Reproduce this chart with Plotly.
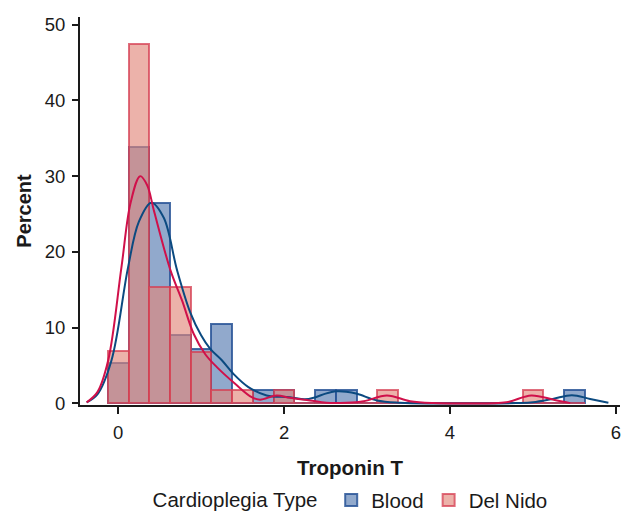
import plotly.graph_objects as go

# Histogram bins (centers, width 0.25) and percent values
bin_centers = [0.0, 0.25, 0.5, 0.75, 1.0, 1.25, 1.5, 1.75, 2.0, 2.25, 2.5, 2.75,
               3.0, 3.25, 3.5, 3.75, 4.0, 4.25, 4.5, 4.75, 5.0, 5.25, 5.5]
blood_pct = [5.4, 33.8, 26.4, 9.1, 7.2, 10.5, 0, 1.8, 1.8, 0, 1.8, 1.8,
             0, 0, 0, 0, 0, 0, 0, 0, 0, 0, 1.8]
delnido_pct = [6.9, 47.5, 15.4, 15.4, 6.8, 1.8, 1.8, 0, 1.8, 0, 0, 0,
               0, 1.8, 0, 0, 0, 0, 0, 0, 1.8, 0, 0]

# Density curves
blood_kde_x = [-0.38, -0.25, -0.08, 0.12, 0.25, 0.40, 0.55, 0.71, 0.87, 1.0, 1.11, 1.25,
               1.39, 1.57, 1.79, 2.07, 2.25, 2.37, 2.5, 2.63, 2.75, 2.88, 3.12, 3.4,
               3.8, 4.3, 4.8, 5.0, 5.24, 5.47, 5.69, 5.91]
blood_kde_y = [0.15, 1.2, 5.7, 18.0, 24.0, 26.5, 24.5, 17.6, 12.0, 9.0, 7.2, 5.7,
               3.9, 2.16, 1.06, 0.83, 0.55, 0.8, 1.3, 1.6, 1.55, 1.28, 0.4, 0.1,
               0.0, 0.0, 0.05, 0.15, 0.6, 1.1, 0.6, 0.1]
delnido_kde_x = [-0.38, -0.25, -0.12, 0.04, 0.15, 0.265, 0.35, 0.43, 0.63, 0.77, 0.91, 1.05,
                 1.19, 1.41, 1.61, 1.71, 1.91, 2.07, 2.31, 2.51, 2.75, 2.96, 3.24, 3.52,
                 3.8, 4.2, 4.68, 4.98, 5.25, 5.45]
delnido_kde_y = [0.15, 1.5, 5.7, 18.0, 26.5, 30.0, 28.8, 25.5, 17.6, 13.6, 9.2, 6.5,
                 4.8, 2.6, 0.83, 0.5, 1.06, 0.75, 0.4, 0.1, 0.1, 0.3, 1.06, 0.3,
                 0.05, 0.0, 0.17, 1.06, 0.5, 0.05]

series_names = ["Blood", "Del Nido"]
x_ticks = [0, 2, 4, 6]
y_ticks = [0, 10, 20, 30, 40, 50]

FONT = "Liberation Sans, Arial, Helvetica, sans-serif"

fig = go.Figure()
fig.add_trace(go.Bar(
    x=bin_centers, y=blood_pct, width=0.25, name=series_names[0],
    marker=dict(color="rgba(88,124,178,0.66)",
                line=dict(color="rgba(40,84,150,0.85)", width=2)),
))
fig.add_trace(go.Bar(
    x=bin_centers, y=delnido_pct, width=0.25, name=series_names[1],
    marker=dict(color="rgba(226,134,122,0.64)",
                line=dict(color="rgba(214,62,82,0.75)", width=2)),
))
fig.add_trace(go.Scatter(
    x=blood_kde_x, y=blood_kde_y, mode="lines", showlegend=False,
    line=dict(color="#0b4a80", width=2, shape="spline", smoothing=1.0),
))
fig.add_trace(go.Scatter(
    x=delnido_kde_x, y=delnido_kde_y, mode="lines", showlegend=False,
    line=dict(color="#d0104a", width=2, shape="spline", smoothing=1.0),
))

fig.update_layout(
    width=631, height=513,
    margin=dict(l=80, r=11, t=17, b=108),
    paper_bgcolor="white", plot_bgcolor="white",
    barmode="overlay", bargap=0,
    font=dict(family=FONT, size=18.5, color="#1a1a1a"),
    showlegend=True,
    legend=dict(
        orientation="h", x=0.503, xanchor="center",
        yref="container", y=0.025, yanchor="middle",
        title=dict(text="Cardioplegia Type ", font=dict(size=20.5)),
        font=dict(size=20.5), traceorder="normal",
        itemwidth=30,
    ),
    xaxis=dict(
        range=[-0.46, 6.05], tickvals=x_ticks, showline=True, linecolor="#1a1a1a",
        linewidth=2, ticks="outside", ticklen=7, tickwidth=2, tickcolor="#1a1a1a",
        showgrid=False, zeroline=False, automargin=False, ticklabelstandoff=3,
        tickfont=dict(size=18.5),
        title=dict(text="<b>Troponin T</b>", font=dict(size=20.5), standoff=18),
    ),
    yaxis=dict(
        range=[-0.2, 51], tickvals=y_ticks, showline=True, linecolor="#1a1a1a",
        linewidth=2, ticks="outside", ticklen=6, tickwidth=2, tickcolor="#1a1a1a",
        showgrid=False, zeroline=False, automargin=False, ticklabelstandoff=3,
        tickfont=dict(size=18.5),
        title=dict(text="<b>Percent</b>", font=dict(size=20), standoff=8),
    ),
)

fig.write_html("out.html")
